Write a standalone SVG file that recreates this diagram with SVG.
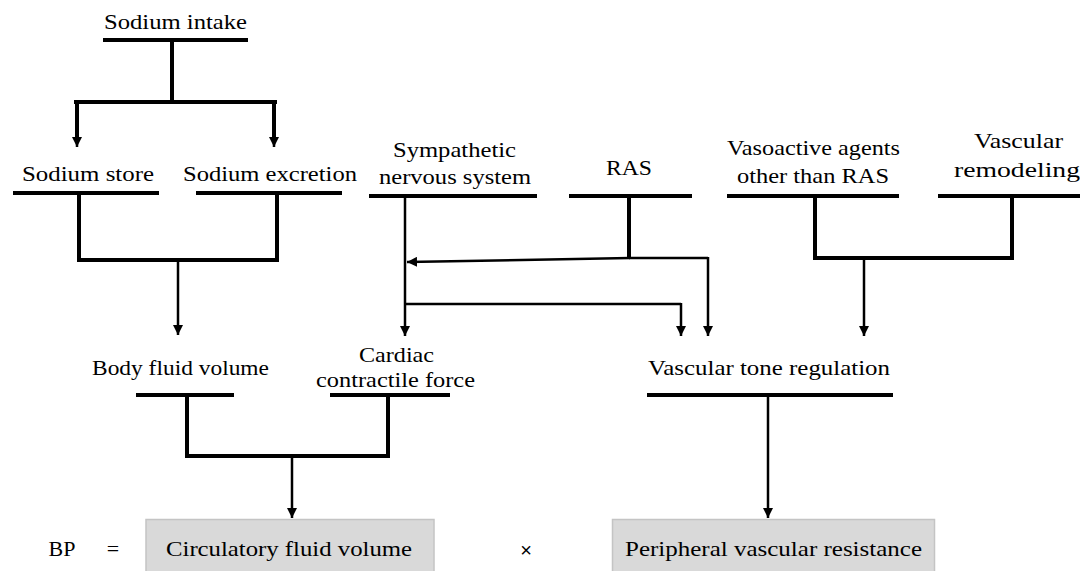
<svg xmlns="http://www.w3.org/2000/svg" width="1080" height="571" viewBox="0 0 1080 571">
<defs>
<marker id="ah" viewBox="0 0 10 10" refX="10" refY="5" markerWidth="10" markerHeight="10" markerUnits="userSpaceOnUse" orient="auto">
<path d="M0,0 L10,5 L0,10 z" fill="#000"/>
</marker>
</defs>
<style>
.ul{stroke:#000;stroke-width:4;fill:none}
.thick{stroke:#000;stroke-width:4;fill:none;stroke-linejoin:miter}
.thin{stroke:#000;stroke-width:2.5;fill:none}
.arr{stroke:#000;stroke-width:2.5;fill:none;marker-end:url(#ah)}
.box{fill:#d9d9d9;stroke:#c4c4c4;stroke-width:1.5}
</style>
<rect width="1080" height="571" fill="#fff"/>
<g id="connectors">
<path class="thick" d="M172,40 V102 M74,102 H277"/>
<path class="thick" d="M77,101 V137 M274,101 V137"/>
<path class="arr" d="M77,135 V147"/>
<path class="arr" d="M274,135 V147"/>
<path class="thick" d="M79,195 V260 H277 V195"/>
<path class="arr" d="M178,260 V335"/>
<path class="arr" d="M405,196 V336"/>
<path class="thick" d="M629,196 V258"/>
<path class="thin" d="M629,258 H708"/>
<path class="arr" d="M708,257 V336"/>
<path class="arr" d="M630,258 L407,262"/>
<path class="thin" d="M405,304 H681"/>
<path class="arr" d="M681,303 V336"/>
<path class="thick" d="M815,196 V258 H1012 V196"/>
<path class="arr" d="M864,258 V336"/>
<path class="thick" d="M187,395 V456 H388 V395"/>
<path class="arr" d="M292,456 V518"/>
<path class="arr" d="M768,395 V518"/>
</g>
<g id="sodium-intake">
<text style="font-family:'Liberation Serif',serif;font-size:22px" text-anchor="middle" x="175.5" y="29" textLength="143" lengthAdjust="spacingAndGlyphs">Sodium intake</text>
<line class="ul" x1="103" y1="40" x2="248" y2="40"/>
</g>
<g id="sodium-store">
<text style="font-family:'Liberation Serif',serif;font-size:22px" text-anchor="middle" x="88" y="181" textLength="132" lengthAdjust="spacingAndGlyphs">Sodium store</text>
<line class="ul" x1="13" y1="193" x2="159" y2="193"/>
</g>
<g id="sodium-excretion">
<text style="font-family:'Liberation Serif',serif;font-size:22px" text-anchor="middle" x="270" y="181" textLength="174" lengthAdjust="spacingAndGlyphs">Sodium excretion</text>
<line class="ul" x1="196" y1="193" x2="342" y2="193"/>
</g>
<g id="sympathetic">
<text style="font-family:'Liberation Serif',serif;font-size:22px" text-anchor="middle" x="454.5" y="157" textLength="123" lengthAdjust="spacingAndGlyphs">Sympathetic</text>
<text style="font-family:'Liberation Serif',serif;font-size:22px" text-anchor="middle" x="455" y="184" textLength="152" lengthAdjust="spacingAndGlyphs">nervous system</text>
<line class="ul" x1="369" y1="196" x2="537" y2="196"/>
</g>
<g id="ras">
<text style="font-family:'Liberation Serif',serif;font-size:22px" text-anchor="middle" x="629" y="175" textLength="46" lengthAdjust="spacingAndGlyphs">RAS</text>
<line class="ul" x1="569" y1="196" x2="692" y2="196"/>
</g>
<g id="vasoactive">
<text style="font-family:'Liberation Serif',serif;font-size:22px" text-anchor="middle" x="813.5" y="155" textLength="173" lengthAdjust="spacingAndGlyphs">Vasoactive agents</text>
<text style="font-family:'Liberation Serif',serif;font-size:22px" text-anchor="middle" x="813" y="183" textLength="152" lengthAdjust="spacingAndGlyphs">other than RAS</text>
<line class="ul" x1="727" y1="196" x2="899" y2="196"/>
</g>
<g id="vascular-remodeling">
<text style="font-family:'Liberation Serif',serif;font-size:22px" text-anchor="middle" x="1018.5" y="148" textLength="89" lengthAdjust="spacingAndGlyphs">Vascular</text>
<text style="font-family:'Liberation Serif',serif;font-size:22px" text-anchor="middle" x="1017" y="177" textLength="126" lengthAdjust="spacingAndGlyphs">remodeling</text>
<line class="ul" x1="938" y1="196" x2="1080" y2="196"/>
</g>
<g id="body-fluid-volume">
<text style="font-family:'Liberation Serif',serif;font-size:22px" text-anchor="middle" x="180.5" y="375" textLength="177" lengthAdjust="spacingAndGlyphs">Body fluid volume</text>
<line class="ul" x1="136" y1="395" x2="234" y2="395"/>
</g>
<g id="cardiac">
<text style="font-family:'Liberation Serif',serif;font-size:22px" text-anchor="middle" x="396.5" y="362" textLength="75" lengthAdjust="spacingAndGlyphs">Cardiac</text>
<text style="font-family:'Liberation Serif',serif;font-size:22px" text-anchor="middle" x="395.5" y="387" textLength="159" lengthAdjust="spacingAndGlyphs">contractile force</text>
<line class="ul" x1="330" y1="395" x2="450" y2="395"/>
</g>
<g id="vascular-tone">
<text style="font-family:'Liberation Serif',serif;font-size:22px" text-anchor="middle" x="769" y="375" textLength="242" lengthAdjust="spacingAndGlyphs">Vascular tone regulation</text>
<line class="ul" x1="647" y1="395" x2="893" y2="395"/>
</g>
<g id="bp">
<text style="font-family:'Liberation Serif',serif;font-size:22px" text-anchor="middle" x="62" y="556">BP</text>
<text style="font-family:'Liberation Serif',serif;font-size:22px" text-anchor="middle" x="113" y="556">=</text>
</g>
<g id="circulatory">
<rect class="box" x="146" y="519.5" width="288" height="55"/>
<text style="font-family:'Liberation Serif',serif;font-size:22px" text-anchor="middle" x="289" y="556" textLength="246" lengthAdjust="spacingAndGlyphs">Circulatory fluid volume</text>
</g>
<g id="times">
<text style="font-family:'Liberation Sans',sans-serif;font-size:20px" text-anchor="middle" x="526" y="557">×</text>
</g>
<g id="peripheral">
<rect class="box" x="612.5" y="519.5" width="322" height="55"/>
<text style="font-family:'Liberation Serif',serif;font-size:22px" text-anchor="middle" x="773.5" y="556" textLength="297" lengthAdjust="spacingAndGlyphs">Peripheral vascular resistance</text>
</g>
</svg>
